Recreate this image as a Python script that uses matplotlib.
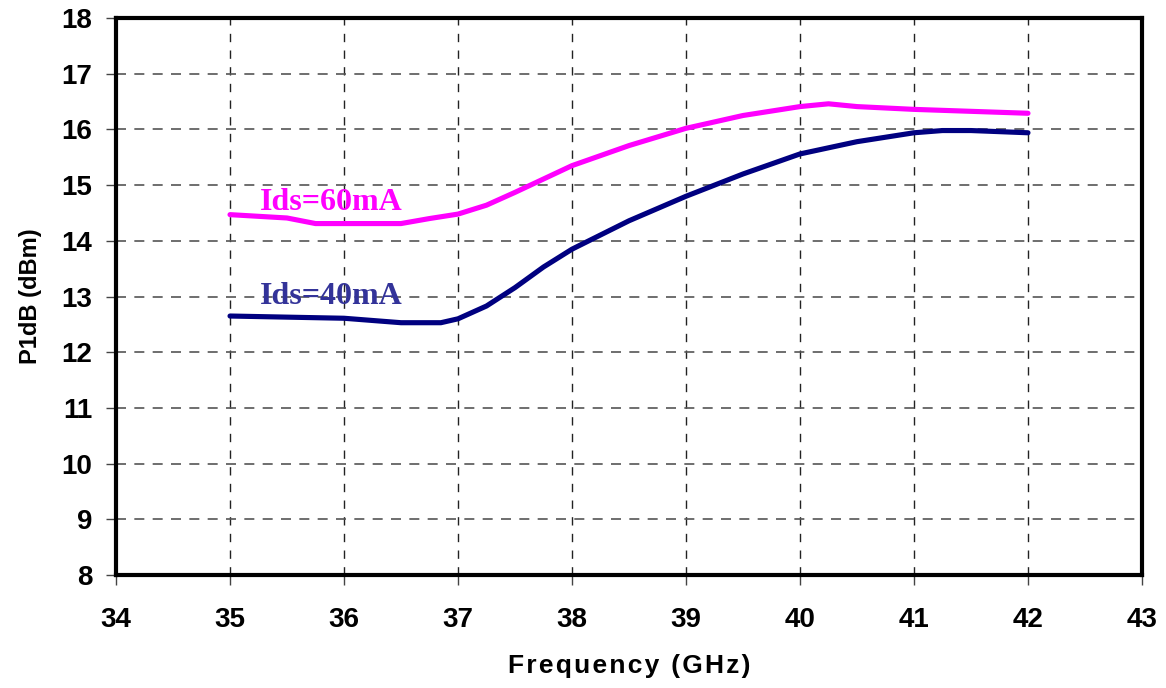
import matplotlib
matplotlib.use("Agg")
import matplotlib.pyplot as plt

freq_60 = [35, 35.5, 35.75, 36, 36.5, 36.75, 37, 37.25, 37.5, 37.75, 38, 38.5, 39, 39.5, 40, 40.25, 40.5, 41, 42]
p1db_60 = [14.47, 14.41, 14.31, 14.31, 14.31, 14.40, 14.48, 14.64, 14.87, 15.11, 15.35, 15.71, 16.02, 16.25, 16.41, 16.46, 16.41, 16.36, 16.29]

freq_40 = [35, 36, 36.5, 36.85, 37, 37.25, 37.5, 37.75, 38, 38.5, 39, 39.5, 40, 40.5, 41, 41.25, 41.5, 42]
p1db_40 = [12.65, 12.61, 12.53, 12.53, 12.60, 12.83, 13.16, 13.53, 13.85, 14.36, 14.80, 15.20, 15.56, 15.78, 15.94, 15.98, 15.98, 15.94]

x_ticks = [34, 35, 36, 37, 38, 39, 40, 41, 42, 43]
y_ticks = [8, 9, 10, 11, 12, 13, 14, 15, 16, 17, 18]

fig = plt.figure(figsize=(11.66, 6.88), dpi=100)
ax = fig.add_axes([0.0995, 0.1642, 0.8799, 0.8096])

ax.plot(freq_60, p1db_60, color="#FF00FF", lw=3.7, solid_capstyle="round", zorder=3)
ax.plot(freq_40, p1db_40, color="#000080", lw=3.7, solid_capstyle="round", zorder=3)

ax.set_xlim(34, 43)
ax.set_ylim(8, 18)
ax.set_xticks(x_ticks)
ax.set_yticks(y_ticks)

for xv in x_ticks[1:-1]:
    ax.axvline(xv, color="#222222", lw=1, dashes=(6, 6), zorder=1)
for yv in y_ticks[1:-1]:
    ax.axhline(yv, color="#555555", lw=1.2, dashes=(6, 5), zorder=1)

for s in ax.spines.values():
    s.set_linewidth(3)
    s.set_color("black")

ax.tick_params(axis="x", direction="out", length=7, width=1, color="#444444",
               labelsize=20, pad=16)
ax.tick_params(axis="y", direction="out", length=7, width=1, color="#444444",
               labelsize=20, pad=10)
for lab in ax.get_xticklabels() + ax.get_yticklabels():
    lab.set_fontfamily("Liberation Sans")
    lab.set_fontweight("bold")

hair = "\u200a"
xlabel = hair.join("Frequency (GHz)")
ax.set_xlabel(xlabel, fontsize=19, fontweight="bold",
              fontfamily=["Liberation Sans", "DejaVu Sans"], labelpad=15)
ax.set_ylabel("P1dB (dBm)", fontsize=17, fontweight="bold",
              fontfamily="Liberation Sans", labelpad=14)

ax.text(35.26, 14.68, "Ids=60mA", color="#FF00FF", fontsize=23, fontweight="bold",
        fontfamily="Liberation Serif", va="center", ha="left", zorder=4)
ax.text(35.26, 13.0, "Ids=40mA", color="#333399", fontsize=23, fontweight="bold",
        fontfamily="Liberation Serif", va="center", ha="left", zorder=4)

fig.savefig("out.png", dpi=100)
